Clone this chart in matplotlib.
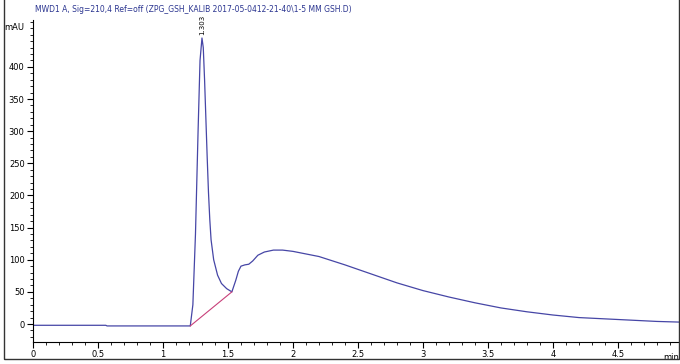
import numpy as np
import matplotlib.pyplot as plt
from matplotlib.ticker import MultipleLocator

temps = [0.0, 0.56, 0.57, 1.21, 1.23, 1.25, 1.27, 1.285, 1.30, 1.31, 1.32, 1.33,
         1.34, 1.35, 1.36, 1.37, 1.39, 1.42, 1.45, 1.49, 1.53, 1.56, 1.58, 1.60,
         1.63, 1.66, 1.69, 1.73, 1.78, 1.85, 1.92, 2.0, 2.2, 2.4, 2.6, 2.8, 3.0,
         3.2, 3.4, 3.6, 3.8, 4.0, 4.2, 4.4, 4.6, 4.8, 4.97]
signal = [-2, -2, -3, -3, 30, 140, 300, 410, 445, 430, 380, 320,
          260, 205, 163, 131, 100, 76, 63, 55, 50, 68, 82, 90,
          92, 93, 98, 107, 112, 115, 115, 113, 105, 92, 78, 64, 52,
          42, 33, 25, 19, 14, 10, 8, 6, 4, 3]

# ligne de base de l'integration
base_t = [1.21, 1.53]
base_y = [-3, 50]

titre = "MWD1 A, Sig=210,4 Ref=off (ZPG_GSH_KALIB 2017-05-0412-21-40\\1-5 MM GSH.D)"
police = ['Liberation Sans Narrow', 'DejaVu Sans']

fig = plt.figure(figsize=(6.8, 3.64), dpi=100)
ax = fig.add_axes([33/680, 22/364, 646/680, 322/364])

ax.plot(temps, signal, color='#4646a6', lw=0.9)
ax.plot(base_t, base_y, color='#c8407a', lw=0.8)

# temps de retention au sommet
ax.text(1.30, 449, '1.303', rotation=90, fontsize=5, ha='center', va='bottom',
        family=police, clip_on=False)

ax.set_xlim(0, 4.97)
ax.set_ylim(-28, 473)
ax.xaxis.set_major_locator(MultipleLocator(0.5))
ax.xaxis.set_minor_locator(MultipleLocator(0.1))
ax.yaxis.set_major_locator(MultipleLocator(50))
ax.yaxis.set_minor_locator(MultipleLocator(10))
ax.set_yticks(range(0, 401, 50))
ax.set_xticks(np.arange(0, 4.6, 0.5))
ax.set_xticklabels(['0', '0.5', '1', '1.5', '2', '2.5', '3', '3.5', '4', '4.5'],
                   family=police)
ax.set_yticklabels([str(v) for v in range(0, 401, 50)], family=police)
ax.tick_params(labelsize=6, length=4, width=0.8, pad=2)
ax.tick_params(which='minor', length=2, width=0.6)
ax.spines['top'].set_visible(False)
ax.spines['right'].set_visible(False)

ax.text(-0.07, 462, 'mAU', fontsize=6, ha='right', va='center', family=police)
ax.text(4.97, -52, 'min', fontsize=6, ha='right', va='center', family=police, clip_on=False)
fig.text(35/680, 1 - 9/364, titre, fontsize=5.5, color='#2b3590', va='center', family=police)

# cadre autour de la figure
fig.add_artist(plt.Rectangle((4/680, 5/364), 675/680, 370/364, fill=False,
                             lw=1.0, color='#333333', transform=fig.transFigure))

plt.savefig('out.png', dpi=100)
